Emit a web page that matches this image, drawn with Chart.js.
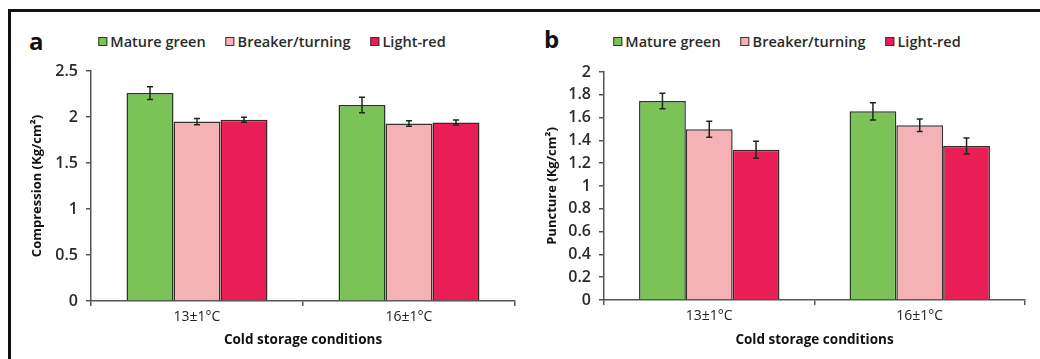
<!DOCTYPE html>
<html>
<head>
<meta charset="utf-8">
<script src="https://cdn.jsdelivr.net/npm/chart.js@4.4.0/dist/chart.umd.min.js"></script>
<style>
  html, body { margin: 0; padding: 0; background: #fff; }
  body { width: 1040px; height: 359px; position: relative; overflow: hidden; font-family: 'Open Sans', sans-serif; }
  #frame { position: absolute; left: 8px; top: 9px; width: 1040px; height: 400px; border-left: 3px solid #111; border-top: 3px solid #111; }
  .box { position: absolute; }
  .letter { position: absolute; font-family: 'Open Sans', sans-serif; font-weight: 700; font-size: 24px; color: #111; line-height: 1; }
  .legend { position: absolute; display: flex; align-items: center; transform: translateX(-50%); white-space: nowrap; }
  .item { display: flex; align-items: center; margin: 0 10px; font-size: 14.5px; font-weight: 600; color: #2a2a2a; }
  .sw { width: 7px; height: 7px; border: 1px solid #333; margin-right: 3px; }
</style>
</head>
<body>
<div id="frame"></div>
<div class="letter" style="left:29px; top:29px;">a</div>
<div class="letter" style="left:544px; top:27px;">b</div>
<div class="legend" id="legA" style="left:272px; top:32px;"></div>
<div class="legend" id="legB" style="left:787px; top:32px;"></div>
<div class="box" style="left:12px; top:40px;"><canvas id="cA" width="520" height="319"></canvas></div>
<div class="box" style="left:534px; top:40px;"><canvas id="cB" width="506" height="319"></canvas></div>
<script>
// ---- data ----
const categories = ['13\u00b11\u00b0C', '16\u00b11\u00b0C'];
const seriesNames = ['Mature green', 'Breaker/turning', 'Light-red'];

const compressionGreen = [2.26, 2.13];
const compressionPink  = [1.95, 1.93];
const compressionRed   = [1.97, 1.94];
const compressionGreenErr = [0.07, 0.085];
const compressionPinkErr  = [0.035, 0.03];
const compressionRedErr   = [0.028, 0.028];

const punctureGreen = [1.745, 1.655];
const puncturePink  = [1.497, 1.532];
const punctureRed   = [1.318, 1.351];
const punctureGreenErr = [0.068, 0.075];
const puncturePinkErr  = [0.07, 0.055];
const punctureRedErr   = [0.075, 0.07];

const compressionTicks = { min: 0, max: 2.5, step: 0.5 };
const punctureTicks = { min: 0, max: 2, step: 0.2 };

// ---- styles ----
const fills = ['#7bc257', '#f4b1b6', '#e91e56'];
const borders = ['#233a23', '#3a3333', '#3a2a2a'];
const axisColor = '#555555';

function buildLegend(id) {
  const el = document.getElementById(id);
  seriesNames.forEach((n, i) => {
    const it = document.createElement('div');
    it.className = 'item';
    const sw = document.createElement('span');
    sw.className = 'sw';
    sw.style.background = fills[i];
    it.appendChild(sw);
    const t = document.createElement('span');
    t.textContent = n;
    it.appendChild(t);
    el.appendChild(it);
  });
}
buildLegend('legA');
buildLegend('legB');

const errorBarPlugin = {
  id: 'errorBars',
  afterDatasetsDraw(chart) {
    const ctx = chart.ctx;
    const ys = chart.scales.y;
    chart.data.datasets.forEach((ds, i) => {
      const meta = chart.getDatasetMeta(i);
      meta.data.forEach((bar, j) => {
        const v = ds.data[j], e = ds.errors[j];
        const yTop = ys.getPixelForValue(v + e);
        const yBot = ys.getPixelForValue(v - e);
        ctx.save();
        ctx.strokeStyle = '#1c2a1c';
        ctx.lineWidth = 1.5;
        ctx.beginPath();
        ctx.moveTo(bar.x, yTop); ctx.lineTo(bar.x, yBot);
        ctx.moveTo(bar.x - 3, yTop); ctx.lineTo(bar.x + 3, yTop);
        ctx.moveTo(bar.x - 3, yBot); ctx.lineTo(bar.x + 3, yBot);
        ctx.stroke();
        ctx.restore();
      });
    });
  }
};

Chart.defaults.font.family = "'Open Sans', sans-serif";
Chart.defaults.color = '#333';

function makeChart(id, values, errs, tk, yTitle, pad, yWidth, xHeight, catPct) {
  return new Chart(document.getElementById(id), {
    type: 'bar',
    data: {
      labels: categories,
      datasets: seriesNames.map((n, i) => ({
        label: n,
        data: values[i],
        errors: errs[i],
        backgroundColor: fills[i],
        borderColor: borders[i],
        borderWidth: 1.5,
        borderSkipped: 'bottom',
        barPercentage: 1.0,
        categoryPercentage: catPct
      }))
    },
    options: {
      responsive: false,
      animation: false,
      devicePixelRatio: 1,
      layout: { padding: pad },
      plugins: { legend: { display: false }, tooltip: { enabled: false } },
      scales: {
        x: {
          grid: { display: true, drawOnChartArea: false, offset: true, tickLength: 5, color: axisColor, lineWidth: 1.5 },
          border: { display: true, color: axisColor, width: 1.5 },
          ticks: { padding: 3, color: '#222', font: { size: 14, weight: '500' } },
          title: { display: true, text: 'Cold storage conditions', color: '#111', font: { size: 13.5, weight: 'bold' }, padding: { top: 0, bottom: 11 } },
          afterFit(scale) { scale.height = xHeight; }
        },
        y: {
          min: tk.min, max: tk.max,
          grid: { display: true, drawOnChartArea: false, tickLength: 5, color: axisColor, lineWidth: 1.5 },
          border: { display: true, color: axisColor, width: 1.5 },
          ticks: {
            stepSize: tk.step, padding: 8, color: '#2a2a2a', font: { size: 16, weight: '600' },
            callback: (v) => String(Math.round(v * 10) / 10)
          },
          title: { display: true, text: yTitle, color: '#111', font: { size: 13, weight: 'bold' }, padding: { top: 3, bottom: 0 } },
          afterFit(scale) { scale.width = yWidth; }
        }
      }
    },
    plugins: [errorBarPlugin]
  });
}

makeChart('cA',
  [compressionGreen, compressionPink, compressionRed],
  [compressionGreenErr, compressionPinkErr, compressionRedErr],
  compressionTicks, 'Compression (Kg/cm\u00b2)',
  { top: 31, left: 14, right: 17, bottom: 0 }, 65, 58, 0.665);

makeChart('cB',
  [punctureGreen, puncturePink, punctureRed],
  [punctureGreenErr, puncturePinkErr, punctureRedErr],
  punctureTicks, 'Puncture (Kg/cm\u00b2)',
  { top: 32, left: 7, right: 15, bottom: 0 }, 63, 59, 0.667);
</script>
</body>
</html>
